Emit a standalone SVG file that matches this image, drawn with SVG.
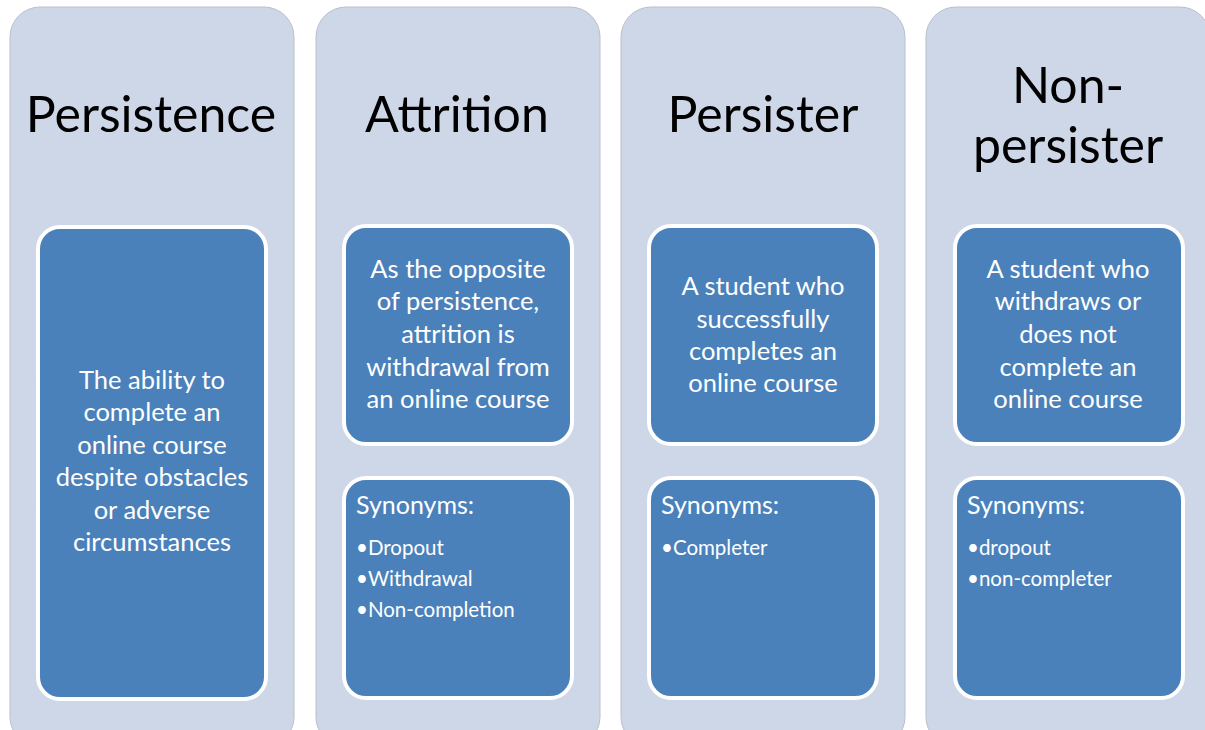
<svg xmlns="http://www.w3.org/2000/svg" width="1205" height="730" viewBox="0 0 1205 730">
<style>
.col{fill:#CED7E7;stroke:#B9C0CD;stroke-width:1}
.box{fill:#4A81BB;stroke:#FFFFFF;stroke-width:4}
.title{font-family:Lato,"Open Sans",sans-serif;font-size:50px;fill:#000;text-anchor:middle}
.body{font-family:Lato,"Open Sans",sans-serif;font-size:25.5px;fill:#FFFFFF;text-anchor:middle}
.syn{font-family:Lato,"Open Sans",sans-serif;font-size:25px;fill:#FFFFFF}
.item{font-family:Lato,"Open Sans",sans-serif;font-size:20.5px;fill:#FFFFFF}
</style>
<rect width="1205" height="730" fill="#FFFFFF"/>
<g id="col-persistence">
<rect class="col" x="10" y="7" width="284" height="740" rx="30"/>
<text class="title" x="151" y="132">Persistence</text>
<rect class="box" x="38" y="227" width="228" height="472" rx="22"/>
<text class="body" x="152" y="389">The ability to</text>
<text class="body" x="152" y="421">complete an</text>
<text class="body" x="152" y="454">online course</text>
<text class="body" x="152" y="486">despite obstacles</text>
<text class="body" x="152" y="519">or adverse</text>
<text class="body" x="152" y="551">circumstances</text>
</g>
<g id="col-attrition">
<rect class="col" x="316" y="7" width="284" height="740" rx="30"/>
<text class="title" x="457" y="132">Attrition</text>
<rect class="box" x="344" y="226" width="228" height="218" rx="22"/>
<text class="body" x="458" y="278">As the opposite</text>
<text class="body" x="458" y="310">of persistence,</text>
<text class="body" x="458" y="343">attrition is</text>
<text class="body" x="458" y="376">withdrawal from</text>
<text class="body" x="458" y="408">an online course</text>
<rect class="box" x="344" y="478" width="228" height="220" rx="22"/>
<text class="syn" x="356" y="514">Synonyms:</text>
<text class="item" x="356" y="555">•Dropout</text>
<text class="item" x="356" y="586">•Withdrawal</text>
<text class="item" x="356" y="617">•Non-completion</text>
</g>
<g id="col-persister">
<rect class="col" x="621" y="7" width="284" height="740" rx="30"/>
<text class="title" x="763" y="132">Persister</text>
<rect class="box" x="649" y="226" width="228" height="218" rx="22"/>
<text class="body" x="763" y="295">A student who</text>
<text class="body" x="763" y="328">successfully</text>
<text class="body" x="763" y="360">completes an</text>
<text class="body" x="763" y="392">online course</text>
<rect class="box" x="649" y="478" width="228" height="220" rx="22"/>
<text class="syn" x="661" y="514">Synonyms:</text>
<text class="item" x="661" y="555">•Completer</text>
</g>
<g id="col-nonpersister">
<rect class="col" x="926" y="7" width="284" height="740" rx="30"/>
<text class="title" x="1068" y="103">Non-</text>
<text class="title" x="1068" y="163">persister</text>
<rect class="box" x="955" y="226" width="228" height="218" rx="22"/>
<text class="body" x="1068" y="278">A student who</text>
<text class="body" x="1068" y="310">withdraws or</text>
<text class="body" x="1068" y="343">does not</text>
<text class="body" x="1068" y="376">complete an</text>
<text class="body" x="1068" y="408">online course</text>
<rect class="box" x="955" y="478" width="228" height="220" rx="22"/>
<text class="syn" x="967" y="514">Synonyms:</text>
<text class="item" x="967" y="555">•dropout</text>
<text class="item" x="967" y="586">•non-completer</text>
</g>
<g id="connectors"></g>
</svg>
